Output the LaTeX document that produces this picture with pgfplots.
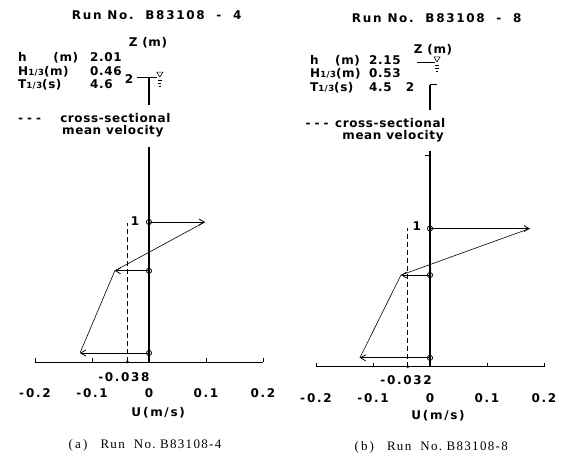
\documentclass[border=0pt]{standalone}
\usepackage{fontspec}
\usepackage{pgfplots}
\pgfplotsset{compat=1.18}
\usetikzlibrary{arrows.meta}

\newfontfamily\lrfont[LetterSpace=5]{DejaVu Sans Bold}
\newfontfamily\lrwfont[LetterSpace=14]{DejaVu Sans Bold}
\newfontfamily\capfont[LetterSpace=10]{Liberation Serif}
\newcommand\lr{\fontsize{12}{14}\selectfont\lrfont}
\newcommand\lrw{\fontsize{12}{14}\selectfont\lrwfont}
\newcommand\sm{\fontsize{8.5}{10}\selectfont}
\newcommand\cf{\fontsize{13}{15}\selectfont\capfont}

\tikzset{txt/.style={font=\lr, anchor=base west, inner sep=0pt}}

\pgfplotsset{
  panel/.style={
    x=570pt, y=141pt, anchor=origin, clip=false,
    xmin=-0.2, xmax=0.2, ymax=2.3,
    axis x line=bottom, axis y line=none,
    axis line style={-, line width=0.7pt},
    xtick={-0.2,-0.1,0,0.1,0.2},
    xticklabels={{-\,0.2},{-0.1},0,0.1,0.2},
    tick align=inside, major tick length=4pt,
    tick style={line width=0.7pt, black},
    xticklabel style={font=\lrw, yshift=-23pt},
  },
  vel/.style={line width=0.8pt, -{Straight Barb[length=5pt,width=6pt]}},
  zaxis/.style={line width=1.4pt},
  fine/.style={line width=0.6pt},
  mean/.style={line width=0.8pt, dash pattern=on 5pt off 3pt},
  pts/.style={only marks, mark=o, mark size=2.6pt, mark options={fill=white, line width=0.8pt}},
}

\begin{document}
\begin{tikzpicture}
\useasboundingbox (0,0) rectangle (563pt,-456pt);

% (a) Run No. B83108-4
\begin{axis}[panel, at={(149pt,-362pt)}, ymin=0]
  % vertical z axis
  \addplot[zaxis] coordinates {(0,2.02) (0,1.82)};
  \addplot[zaxis] coordinates {(0,1.525) (0,0)};
  % water surface
  \addplot[fine] coordinates {(-0.021,2.02) (0.014,2.02)};
  \addplot[fine] coordinates {(0.019,2.02) (0.0137,2.0555) (0.0243,2.0555) (0.019,2.02)};
  \addplot[fine] coordinates {(0.0150,1.999) (0.0230,1.999)};
  \addplot[fine] coordinates {(0.0162,1.977) (0.0218,1.977)};
  \addplot[fine] coordinates {(0.0175,1.956) (0.0205,1.956)};
  % mean velocity
  \addplot[mean] coordinates {(-0.038,0) (-0.038,0.986)};
  \addplot[only marks, mark=*, mark size=1.2pt] coordinates {(-0.038,0)};
  % velocity vectors
  \addplot[vel] coordinates {(0,0.993) (0.098,0.993)};
  \addplot[vel] coordinates {(0,0.647) (-0.060,0.647)};
  \addplot[vel] coordinates {(0,0.064) (-0.121,0.064)};
  \addplot[fine] coordinates {(0.098,0.993) (-0.060,0.647) (-0.121,0.064)};
  \addplot[pts] coordinates {(0,0.993) (0,0.647) (0,0.064)};
  % texts
  \node[font=\lrw] at (axis cs:0.0135,2.461) {Run No.\ \ B83108\ \ -\ \ 4};
  \node[txt] at (axis cs:-0.2298,2.131) {h};
  \node[txt] at (axis cs:-0.168,2.131) {(m)};
  \node[txt] at (axis cs:-0.1035,2.131) {2.01};
  \node[txt] at (axis cs:-0.2298,2.035) {H{\sm 1/3}(m)};
  \node[txt] at (axis cs:-0.1035,2.035) {0.46};
  \node[txt] at (axis cs:-0.2298,1.940) {T{\sm 1/3}(s)};
  \node[txt] at (axis cs:-0.1035,1.940) {4.6};
  \node[txt] at (axis cs:-0.2298,1.699) {-\,\,-\,\,-};
  \node[txt] at (axis cs:-0.156,1.699) {cross-sectional};
  \node[txt] at (axis cs:-0.1526,1.610) {mean velocity};
  \node[font=\lr] at (axis cs:-0.0018,2.262) {Z (m)};
  \node[font=\lr] at (axis cs:-0.035,2.007) {2};
  \node[font=\lr] at (axis cs:-0.0246,1.0) {1};
  \node[font=\lrw] at (axis cs:-0.044,-0.106) {-0.038};
  \node[font=\lrw] at (axis cs:0.016,-0.362) {U\,(m/s)};
  \node[font=\cf] at (axis cs:-0.007,-0.589) {(\,a\,)\quad Run\ \ No.\ B83108-4};
\end{axis}

% (b) Run No. B83108-8
\begin{axis}[panel, at={(430pt,-366.7pt)}, ymin=0.02]
  \addplot[zaxis] coordinates {(0,2.02) (0,1.84)};
  \addplot[fine] coordinates {(0,2.02) (0.0123,2.02)};
  \addplot[zaxis] coordinates {(0,1.55) (0,0.02)};
  \addplot[fine] coordinates {(-0.009,1.52) (0,1.52)};
  % water surface
  \addplot[fine] coordinates {(-0.0228,2.182) (0.0088,2.182)};
  \addplot[fine] coordinates {(0.0123,2.182) (0.0070,2.2175) (0.0176,2.2175) (0.0123,2.182)};
  \addplot[fine] coordinates {(0.0083,2.161) (0.0163,2.161)};
  \addplot[fine] coordinates {(0.0095,2.139) (0.0151,2.139)};
  \addplot[fine] coordinates {(0.0108,2.118) (0.0138,2.118)};
  % mean velocity
  \addplot[mean] coordinates {(-0.039,0.02) (-0.039,1.005)};
  \addplot[only marks, mark=*, mark size=1.2pt] coordinates {(-0.039,0.02)};
  % velocity vectors
  \addplot[vel] coordinates {(0,1.0) (0.175,1.0)};
  \addplot[vel] coordinates {(0,0.67) (-0.051,0.67)};
  \addplot[vel] coordinates {(0,0.083) (-0.123,0.083)};
  \addplot[fine] coordinates {(0.175,1.0) (-0.051,0.67) (-0.123,0.083)};
  \addplot[pts] coordinates {(0,1.0) (0,0.67) (0,0.083)};
  % texts
  \node[font=\lrw] at (axis cs:0.0118,2.494) {Run No.\ \ B83108\ \ -\ \ 8};
  \node[txt] at (axis cs:-0.2105,2.165) {h};
  \node[txt] at (axis cs:-0.1667,2.165) {(m)};
  \node[txt] at (axis cs:-0.107,2.165) {2.15};
  \node[txt] at (axis cs:-0.2105,2.069) {H{\sm 1/3}(m)};
  \node[txt] at (axis cs:-0.107,2.069) {0.53};
  \node[txt] at (axis cs:-0.2105,1.973) {T{\sm 1/3}(s)};
  \node[txt] at (axis cs:-0.107,1.973) {4.5};
  \node[txt] at (axis cs:-0.2185,1.718) {-\,\,-\,\,-};
  \node[txt] at (axis cs:-0.1667,1.718) {cross-sectional};
  \node[txt] at (axis cs:-0.154,1.630) {mean velocity};
  \node[font=\lr] at (axis cs:0.0053,2.267) {Z (m)};
  \node[font=\lr] at (axis cs:-0.035,2.0) {2};
  \node[font=\lr] at (axis cs:-0.023,1.019) {1};
  \node[font=\lrw] at (axis cs:-0.042,-0.074) {-0.032};
  \node[font=\lrw] at (axis cs:0.014,-0.328) {U\,(m/s)};
  \node[font=\cf] at (axis cs:0.002,-0.555) {(\,b\,)\quad Run\ \ No.\ B83108-8};
\end{axis}
\end{tikzpicture}
\end{document}
